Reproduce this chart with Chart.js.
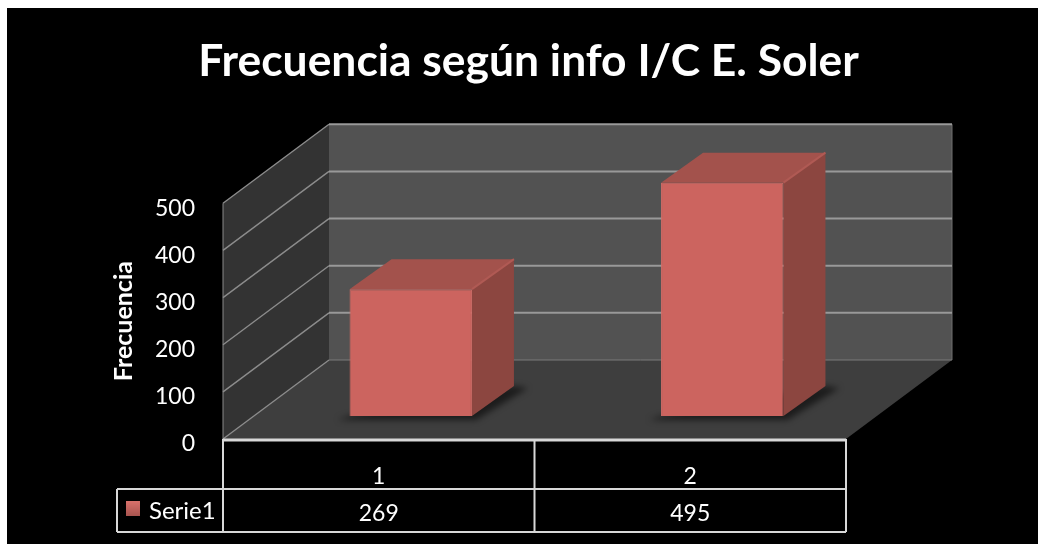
<!DOCTYPE html>
<html>
<head>
<meta charset="utf-8">
<title>Frecuencia</title>
<style>
  html, body { margin:0; padding:0; background:#fff; }
  #wrap { position:absolute; left:7px; top:8px; width:1031px; height:536px; background:#000; overflow:hidden; }
  canvas { display:block; filter:blur(0.5px); }
</style>
</head>
<body>
<div id="wrap"><canvas id="c" width="1031" height="536"></canvas></div>
<script src="https://cdn.jsdelivr.net/npm/chart.js@4"></script>
<script>
const chartTitle = 'Frecuencia según info I/C E. Soler';
const yTitle = 'Frecuencia';
const seriesName = 'Serie1';
const categories = ['1', '2'];
const values = [269, 495];
const yMax = 500;
const yStep = 100;

const FONT = 'Lato, "Noto Sans", sans-serif';
// 3D depth of the box, how far the bars sit inside it, and the depth of a bar
const DEPTH = { x: 106, y: -79 };
const INSET = { x: 32, y: -23 };
const BAR_DEPTH = { x: 42, y: -30 };

function poly(ctx, pts, fill){
  ctx.beginPath();
  pts.forEach((p,i)=> i ? ctx.lineTo(p[0],p[1]) : ctx.moveTo(p[0],p[1]));
  ctx.closePath();
  ctx.fillStyle = fill;
  ctx.fill();
}
function line(ctx, x1, y1, x2, y2, color, w){
  ctx.beginPath();
  ctx.moveTo(x1,y1); ctx.lineTo(x2,y2);
  ctx.strokeStyle = color; ctx.lineWidth = w;
  ctx.stroke();
}

const box3d = {
  id: 'box3d',
  beforeDatasetsDraw(chart){
    const { ctx, chartArea:a, scales:{ y } } = chart;
    const dx = DEPTH.x, dy = DEPTH.y;
    ctx.save();
    // walls + floor
    poly(ctx, [[a.left+dx,a.top+dy],[a.right+dx,a.top+dy],[a.right+dx,a.bottom+dy],[a.left+dx,a.bottom+dy]], '#525252');
    poly(ctx, [[a.left,a.top],[a.left+dx,a.top+dy],[a.left+dx,a.bottom+dy],[a.left,a.bottom]], '#333333');
    poly(ctx, [[a.left,a.bottom],[a.left+dx,a.bottom+dy],[a.right+dx,a.bottom+dy],[a.right,a.bottom]], '#3e3e3e');
    line(ctx, a.right+dx, a.top+dy, a.right+dx, a.bottom+dy, '#6e6e6e', 1);
    line(ctx, a.left, a.top, a.left, a.bottom, '#8a8a8a', 1);
    // gridlines follow the y scale ticks
    y.ticks.forEach(t=>{
      const py = y.getPixelForValue(t.value);
      line(ctx, a.left, py, a.left+dx, py+dy, '#8c8c8c', 1.4);
      line(ctx, a.left+dx, py+dy, a.right+dx, py+dy, t.value === 0 ? '#7a7a7a' : '#999999', t.value === 0 ? 1 : 2);
    });
    // bars: floor shadow, then the top and side faces
    const ox = INSET.x, oy = INSET.y, bx = BAR_DEPTH.x, by = BAR_DEPTH.y;
    chart.getDatasetMeta(0).data.forEach(el=>{
      const l = el.x-el.width/2+ox, r = el.x+el.width/2+ox, t = el.y+oy, b = el.base+oy;
      ctx.save();
      ctx.filter = 'blur(3px)';
      poly(ctx, [[l-12,b+4],[r+4,b+4],[r+bx+14,b+by+2],[r+bx,b+by],[l,b]], 'rgba(0,0,0,0.55)');
      ctx.restore();
      poly(ctx, [[l,t],[l+bx,t+by],[r+bx,t+by],[r,t]], '#a3524c');
      poly(ctx, [[r,t],[r+bx,t+by],[r+bx,b+by],[r,b]], '#8c4640');
      line(ctx, r, t, r+bx, t+by, '#b05a54', 2);
    });
    ctx.restore();
    // front faces are drawn by the library, pushed into the box
    ctx.save();
    ctx.translate(ox, oy);
  },
  afterDatasetsDraw(chart){
    chart.ctx.restore();
  },
  afterDraw(chart){
    const { ctx, chartArea:a, scales:{ x } } = chart;
    const row1 = a.bottom+50, row2 = a.bottom+93, legendLeft = a.left-106;
    ctx.save();
    // data table
    const col = '#d8d8d8';
    line(ctx, a.left, a.bottom+1, a.right, a.bottom+1, col, 3);
    line(ctx, legendLeft, row1, a.right, row1, col, 2);
    line(ctx, legendLeft, row2, a.right, row2, col, 2);
    line(ctx, legendLeft, row1, legendLeft, row2, col, 2);
    line(ctx, a.left, a.bottom, a.left, row2, col, 2);
    line(ctx, a.right, a.bottom, a.right, row2, col, 2);
    const mid = (x.getPixelForValue(0)+x.getPixelForValue(1))/2;
    line(ctx, mid, a.bottom, mid, row2, col, 2);
    // legend key
    const g = ctx.createLinearGradient(0, row1+12, 0, row1+27);
    g.addColorStop(0, '#d9716b'); g.addColorStop(1, '#a8544f');
    ctx.fillStyle = g;
    ctx.fillRect(legendLeft+9, row1+12, 14, 15);
    // table text
    ctx.fillStyle = '#fff';
    ctx.textBaseline = 'middle';
    ctx.textAlign = 'left';
    ctx.font = '24px '+FONT;
    ctx.fillText(seriesName, legendLeft+32, row1+22);
    ctx.textAlign = 'center';
    ctx.font = '23px '+FONT;
    values.forEach((v,i)=> ctx.fillText(String(v), x.getPixelForValue(i), row1+25));
    ctx.restore();
  }
};

new Chart(document.getElementById('c').getContext('2d'), {
  type: 'bar',
  data: {
    labels: categories,
    datasets: [{
      label: seriesName,
      data: values,
      yAxisID: 'y',
      backgroundColor: '#cc645f',
      borderColor: '#d26c66',
      borderWidth: 1,
      categoryPercentage: 1,
      barPercentage: 0.393
    }]
  },
  options: {
    responsive: false,
    animation: false,
    layout: { padding: { left: 12 } },
    plugins: {
      legend: { display: false },
      tooltip: { enabled: false },
      title: {
        display: true,
        text: chartTitle,
        color: '#fff',
        font: { family: FONT, size: 44.4, weight: 'bold' },
        padding: { top: 27, bottom: 115 }
      }
    },
    scales: {
      x: {
        grid: { display: false },
        border: { display: false },
        ticks: { color: '#fff', padding: 16, maxRotation: 0, font: { family: FONT, size: 23 } },
        afterFit(s){ s.height = 105; }
      },
      y: {
        min: 0,
        max: yMax,
        grid: { display: false },
        border: { display: false },
        ticks: { stepSize: yStep, color: '#fff', padding: 20, labelOffset: 5, font: { family: FONT, size: 23 } },
        title: { display: true, text: yTitle, color: '#fff', font: { family: FONT, size: 25, weight: 'bold' }, padding: { top: 90, bottom: 0 } },
        afterFit(s){ s.width = 204; }
      },
      // keeps the plot clear of the right side, title stays centred on the page
      spacer: {
        position: 'right',
        grid: { display: false },
        border: { display: false },
        ticks: { display: false },
        afterFit(s){ s.width = 192; }
      }
    }
  },
  plugins: [box3d]
});
</script>
</body>
</html>
